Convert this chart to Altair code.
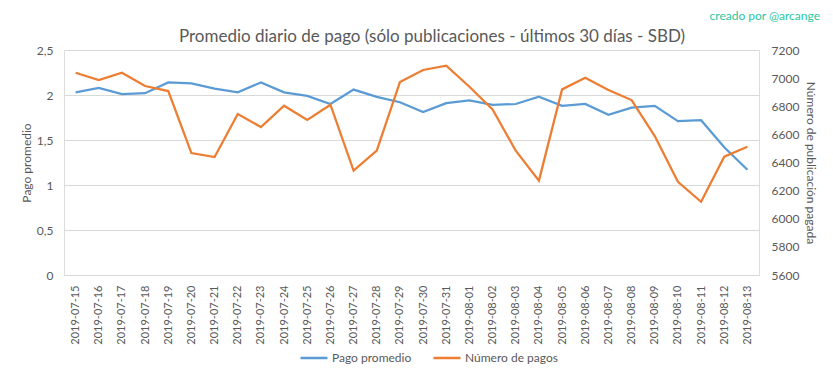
import altair as alt
import pandas as pd

fechas = [
    "2019-07-15", "2019-07-16", "2019-07-17", "2019-07-18", "2019-07-19",
    "2019-07-20", "2019-07-21", "2019-07-22", "2019-07-23", "2019-07-24",
    "2019-07-25", "2019-07-26", "2019-07-27", "2019-07-28", "2019-07-29",
    "2019-07-30", "2019-07-31", "2019-08-01", "2019-08-02", "2019-08-03",
    "2019-08-04", "2019-08-05", "2019-08-06", "2019-08-07", "2019-08-08",
    "2019-08-09", "2019-08-10", "2019-08-11", "2019-08-12", "2019-08-13",
]
pago_promedio = [
    2.03, 2.08, 2.01, 2.02, 2.14, 2.13, 2.07, 2.03, 2.14, 2.03,
    1.99, 1.90, 2.06, 1.98, 1.92, 1.81, 1.91, 1.94, 1.89, 1.90,
    1.98, 1.88, 1.90, 1.78, 1.86, 1.88, 1.71, 1.72, 1.42, 1.17,
]
numero_pagos = [
    7038, 6987, 7038, 6944, 6908, 6467, 6439, 6745, 6652, 6804,
    6702, 6811, 6342, 6484, 6972, 7058, 7088, 6939, 6778, 6484,
    6271, 6920, 7003, 6915, 6844, 6588, 6263, 6121, 6441, 6512,
]
series = ["Pago promedio", "Número de pagos"]
titulo = "Promedio diario de pago (sólo publicaciones - últimos 30 días - SBD)"
credito = "creado por @arcange"

df = pd.DataFrame({"fecha": fechas, "pago": pago_promedio, "num": numero_pagos})

FONT = "Lato"
GRAY = "#595959"
GRID = "#D9D9D9"
BLUE = "#5B9BD5"
ORANGE = "#ED7D31"

color_scale = alt.Scale(domain=series, range=[BLUE, ORANGE])
legend = alt.Legend(
    title=None, orient="none", direction="horizontal", legendX=235, legendY=293,
    symbolType="stroke", symbolSize=729, symbolStrokeWidth=2.5,
    labelFont=FONT, labelFontSize=12, labelColor=GRAY, labelOffset=3,
    columnPadding=16,
)

x = alt.X(
    "fecha:O",
    scale=alt.Scale(padding=0.5),
    axis=alt.Axis(
        title=None, labelAngle=-90, labelFont=FONT, labelFontSize=11,
        labelColor=GRAY, ticks=False, domainColor=GRID, labelPadding=10,
        grid=False,
    ),
)

base = alt.Chart(df)

blue = base.transform_calculate(serie=f"'{series[0]}'").mark_line(
    strokeWidth=2.25
).encode(
    x=x,
    y=alt.Y(
        "pago:Q",
        scale=alt.Scale(domain=[0, 2.5], nice=False),
        axis=alt.Axis(
            title="Pago promedio", values=[0, 0.5, 1, 1.5, 2, 2.5],
            labelExpr="replace(format(datum.value, '~g'), '.', ',')",
            grid=True, gridColor=GRID, domain=False, ticks=False,
            labelPadding=11, labelFont=FONT, labelFontSize=12, labelColor=GRAY,
            titleFont=FONT, titleFontSize=12, titleFontWeight="normal",
            titleColor=GRAY, titlePadding=3,
        ),
    ),
    color=alt.Color("serie:N", scale=color_scale, legend=legend),
)

orange = base.transform_calculate(serie=f"'{series[1]}'").mark_line(
    strokeWidth=2.25
).encode(
    x=x,
    y=alt.Y(
        "num:Q",
        scale=alt.Scale(domain=[5600, 7200], nice=False, zero=False),
        axis=alt.Axis(
            title="Número de publicación pagada", orient="right",
            values=list(range(5600, 7201, 200)), format="d",
            grid=False, domain=False, ticks=False,
            labelPadding=12, labelFont=FONT, labelFontSize=12, labelColor=GRAY,
            titleFont=FONT, titleFontSize=12, titleFontWeight="normal",
            titleColor=GRAY, titlePadding=5,
        ),
    ),
    color=alt.Color("serie:N", scale=color_scale, legend=legend),
)

textos = pd.DataFrame({"t": [titulo, credito]})

title_mark = alt.Chart(textos).transform_filter(
    alt.datum.t == titulo
).mark_text(
    font=FONT, fontSize=17, color=GRAY, align="center", baseline="alphabetic"
).encode(text="t:N", x=alt.value(368), y=alt.value(-8))

credit_mark = alt.Chart(textos).transform_filter(
    alt.datum.t == credito
).mark_text(
    font=FONT, fontSize=12, color="#2BC7A0", align="right", baseline="middle"
).encode(text="t:N", x=alt.value(756), y=alt.value(-34))

chart = alt.layer(blue, orange, title_mark, credit_mark).resolve_scale(
    y="independent"
).properties(
    width=695,
    height=225,
    autosize=alt.AutoSizeParams(type="none"),
    padding={"left": 56, "top": 42, "right": 66, "bottom": 100},
).configure_view(stroke=None).configure(background="white")

chart.save("out.html", embed_options={"renderer": "svg", "actions": False})
